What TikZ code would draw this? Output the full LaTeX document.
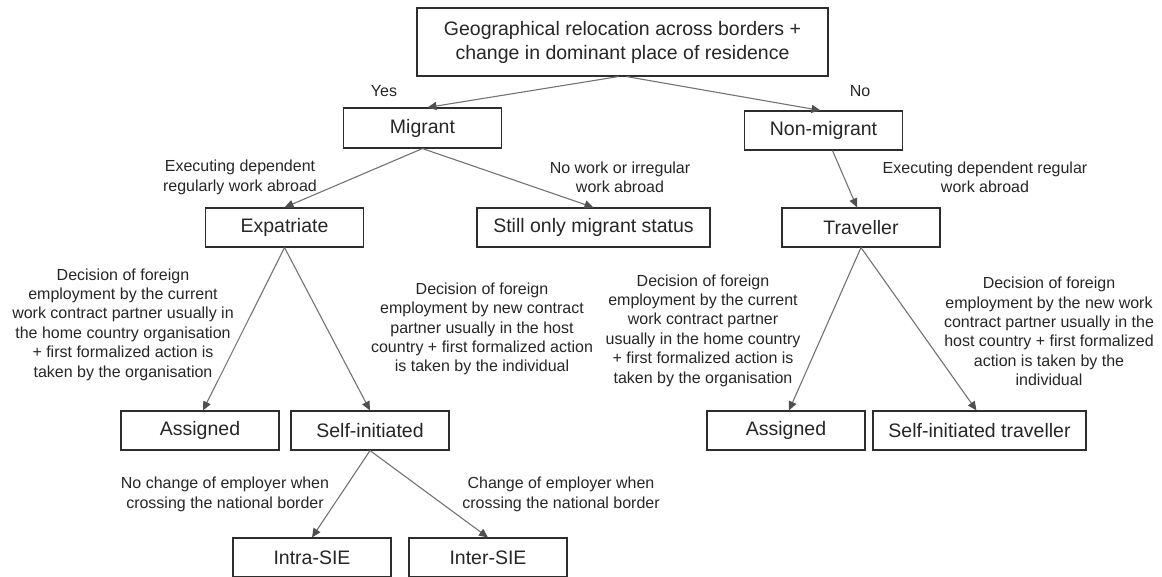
\documentclass[tikz,border=0pt]{standalone}
\usepackage{fontspec}
\setmainfont{Liberation Sans}
\usetikzlibrary{arrows.meta}
\definecolor{linegray}{RGB}{115,115,115}
\definecolor{tipgray}{RGB}{80,80,80}
\definecolor{boxline}{RGB}{45,45,45}

\begin{document}
\begin{tikzpicture}[
  x=1pt, y=-1pt,
  every node/.style={align=center, text=black!85},
  box/.style={draw=boxline, line width=1.1pt, fill=white, minimum width=158pt, minimum height=39pt, inner sep=2pt, font=\fontsize{19.5}{24}\selectfont},
  note/.style={inner sep=0pt, font=\fontsize{16}{19.4}\selectfont},
  flow/.style={draw=linegray, line width=1.1pt, -{Triangle[length=9pt, width=8pt, color=tipgray]}}
]
\useasboundingbox (0,0) rectangle (1162,576);

% boxes
\node[box, minimum width=411pt, minimum height=68pt] (top) at (622.5,42) {Geographical relocation across borders +\\change in dominant place of residence};
\node[box, minimum height=40pt] (migrant) at (422.5,128) {Migrant};
\node[box] (nonmig) at (823.5,130.5) {Non-migrant};
\node[box] (expat) at (284.5,227.5) {Expatriate};
\node[box, minimum width=233pt] (still) at (593.5,227.5) {Still only migrant status};
\node[box] (trav) at (861,227.5) {Traveller};
\node[box] (assignedL) at (200,430.5) {Assigned};
\node[box] (selfinit) at (370,430.5) {Self-initiated};
\node[box] (assignedR) at (786,430.5) {Assigned};
\node[box, minimum width=213pt] (selftrav) at (979.5,430.5) {Self-initiated traveller};
\node[box] (intra) at (312,557.5) {Intra-SIE};
\node[box] (inter) at (488,557.5) {Inter-SIE};

% labels
\node[note] (yes) at (384,91) {Yes};
\node[note] (no) at (860,91) {No};
\node[note] (execL) at (240,177.5) {Executing dependent\\regularly work abroad};
\node[note] (nowork) at (620,177.5) {No work or irregular\\work abroad};
\node[note] (execR) at (985,177.5) {Executing dependent regular\\work abroad};
\node[note] (decAL) at (123,324.5) {Decision of foreign\\employment by the current\\work contract partner usually in\\the home country organisation\\+ first formalized action is\\taken by the organisation};
\node[note] (decSL) at (482,329) {Decision of foreign\\employment by new contract\\partner usually in the host\\country + first formalized action\\is taken by the individual};
\node[note] (decAR) at (703,330.5) {Decision of foreign\\employment by the current\\work contract partner\\usually in the home country\\+ first formalized action is\\taken by the organisation};
\node[note] (decSR) at (1049,331.5) {Decision of foreign\\employment by the new work\\contract partner usually in the\\host country + first formalized\\action is taken by the\\individual};
\node[note] (nochange) at (225,494.5) {No change of employer when\\crossing the national border};
\node[note] (change) at (561,494.5) {Change of employer when\\crossing the national border};

% connectors
\draw[flow] ([xshift=-4pt]top.south) -- ([xshift=5pt]migrant.north);
\draw[flow] ([xshift=4pt]top.south) -- ([xshift=-3pt]nonmig.north);
\draw[flow] (migrant.south) -- (expat.north);
\draw[flow] (migrant.south) -- (still.north);
\draw[flow] ([xshift=9pt]nonmig.south) -- ([xshift=-4pt]trav.north);
\draw[flow] (expat.south) -- ([xshift=3pt]assignedL.north);
\draw[flow] (expat.south) -- (selfinit.north);
\draw[flow] (trav.south) -- ([xshift=3pt]assignedR.north);
\draw[flow] (trav.south) -- ([xshift=-3pt]selftrav.north);
\draw[flow] (selfinit.south) -- (intra.north);
\draw[flow] (selfinit.south) -- (inter.north);
\end{tikzpicture}
\end{document}
